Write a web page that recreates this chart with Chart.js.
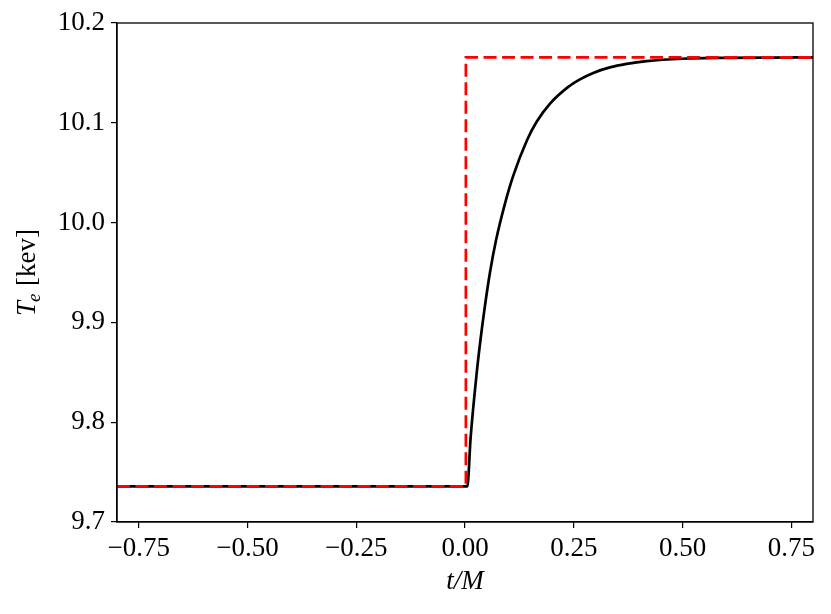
<!DOCTYPE html>
<html>
<head>
<meta charset="utf-8">
<script src="https://cdn.jsdelivr.net/npm/chart.js@4/dist/chart.umd.min.js"></script>
<style>
  html, body { margin: 0; padding: 0; background: #fff; }
  #wrap { width: 831px; height: 614px; position: relative; }
</style>
</head>
<body>
<div id="wrap"><canvas id="c" width="831" height="614"></canvas></div>
<script>
// ---- data ----
const blackX = [-0.8, 0.0054, 0.013, 0.0268, 0.036, 0.046, 0.0574, 0.0712, 0.0919, 0.111, 0.143, 0.1647, 0.195, 0.2374, 0.2642, 0.2948, 0.333, 0.3714, 0.4174, 0.5, 0.6, 0.7, 0.8];
const blackY = [9.7357, 9.7357, 9.785, 9.849, 9.884, 9.917, 9.950, 9.982, 10.019, 10.047, 10.083, 10.101, 10.119, 10.136, 10.1435, 10.150, 10.1555, 10.159, 10.1618, 10.1642, 10.1651, 10.1654, 10.1655];
const redX = [-0.8, 0.002, 0.002, 0.8];
const redY = [9.7357, 9.7357, 10.1655, 10.1655];
const xTicks = [-0.75, -0.5, -0.25, 0, 0.25, 0.5, 0.75];
const yTicks = [9.7, 9.8, 9.9, 10.0, 10.1, 10.2];
const xTitle = 't/M';
const yTitleMain = 'T';
const yTitleSub = 'e';
const yTitleRest = ' [kev]';

const FONT = '"Liberation Serif", "DejaVu Serif", serif';
const FS = 27;

const toPts = (xs, ys) => xs.map((x, i) => ({ x: x, y: ys[i] }));

const framePlugin = {
  id: 'frame',
  afterDraw(chart) {
    const { ctx, chartArea: a } = chart;
    ctx.save();
    ctx.strokeStyle = '#000';
    ctx.lineWidth = 1.3;
    ctx.strokeRect(a.left, a.top, a.right - a.left, a.bottom - a.top);
    // x title
    ctx.fillStyle = '#000';
    ctx.font = 'italic ' + FS + 'px ' + FONT;
    ctx.textAlign = 'center';
    ctx.textBaseline = 'alphabetic';
    ctx.fillText(xTitle, (a.left + a.right) / 2, 589);
    // y title (rotated)
    ctx.translate(35, (a.top + a.bottom) / 2);
    ctx.rotate(-Math.PI / 2);
    ctx.textAlign = 'left';
    ctx.font = 'italic ' + FS + 'px ' + FONT;
    const w1 = ctx.measureText(yTitleMain).width;
    ctx.font = 'italic ' + Math.round(FS * 0.7) + 'px ' + FONT;
    const w2 = ctx.measureText(yTitleSub).width;
    ctx.font = FS + 'px ' + FONT;
    const w3 = ctx.measureText(yTitleRest).width;
    let x0 = -(w1 + w2 + w3) / 2;
    ctx.font = 'italic ' + FS + 'px ' + FONT;
    ctx.fillText(yTitleMain, x0, 0);
    ctx.font = 'italic ' + Math.round(FS * 0.7) + 'px ' + FONT;
    ctx.fillText(yTitleSub, x0 + w1 - 1, 5);
    ctx.font = FS + 'px ' + FONT;
    ctx.fillText(yTitleRest, x0 + w1 + w2, 0);
    ctx.restore();
  }
};

new Chart(document.getElementById('c'), {
  type: 'line',
  data: {
    datasets: [
      {
        label: 'step',
        data: toPts(redX, redY),
        borderColor: '#ff0000',
        borderWidth: 2.7,
        borderDash: [13, 5.5],
        pointRadius: 0,
        tension: 0,
        fill: false,
        order: 0
      },
      {
        label: 'Te',
        data: toPts(blackX, blackY),
        borderColor: '#000000',
        borderWidth: 2.7,
        pointRadius: 0,
        cubicInterpolationMode: 'monotone',
        fill: false,
        order: 1
      }
    ]
  },
  options: {
    responsive: false,
    animation: false,
    devicePixelRatio: 1,
    layout: { padding: { top: 23, right: 18, left: 0, bottom: 0 } },
    plugins: { legend: { display: false }, tooltip: { enabled: false } },
    scales: {
      x: {
        type: 'linear',
        min: -0.8,
        max: 0.8,
        afterBuildTicks: (s) => { s.ticks = xTicks.map(v => ({ value: v })); },
        afterFit: (s) => { s.height = 92; },
        grid: { drawOnChartArea: false, drawTicks: true, tickLength: 6, color: '#000', lineWidth: 1.2 },
        border: { display: true, color: '#000', width: 1.3 },
        ticks: {
          color: '#000',
          padding: 5,
          maxRotation: 0,
          autoSkip: false,
          font: { family: FONT, size: FS },
          callback: (v) => Number(v).toFixed(2).replace('-', '\u2212')
        }
      },
      y: {
        type: 'linear',
        min: 9.7,
        max: 10.2,
        afterBuildTicks: (s) => { s.ticks = yTicks.map(v => ({ value: v })); },
        afterFit: (s) => { s.width = 117; },
        grid: { drawOnChartArea: false, drawTicks: true, tickLength: 6, color: '#000', lineWidth: 1.2 },
        border: { display: true, color: '#000', width: 1.3 },
        ticks: {
          color: '#000',
          padding: 6,
          autoSkip: false,
          font: { family: FONT, size: FS },
          callback: (v) => Number(v).toFixed(1)
        }
      }
    }
  },
  plugins: [framePlugin]
});
</script>
</body>
</html>
